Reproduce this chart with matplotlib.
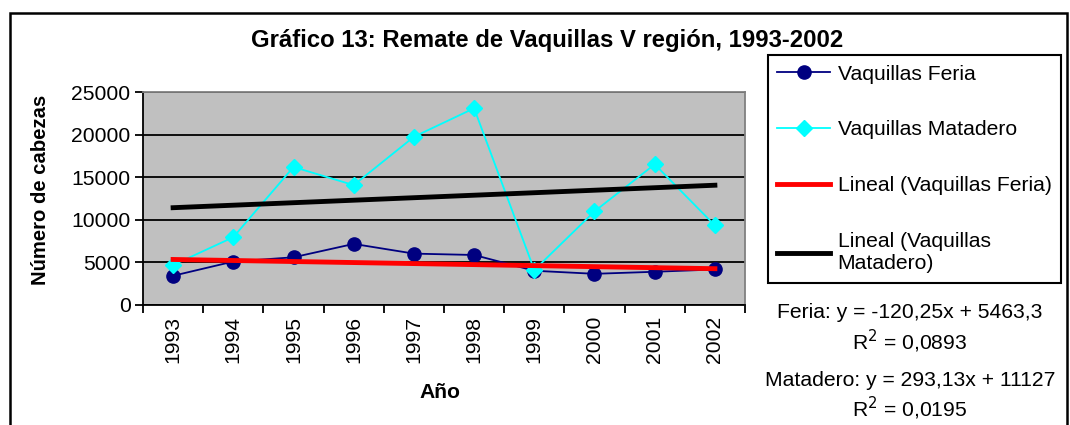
import numpy as np
import matplotlib.pyplot as plt
from matplotlib.patches import Rectangle

# Data
years = ['1993', '1994', '1995', '1996', '1997', '1998', '1999', '2000', '2001', '2002']
feria = [3430, 5100, 5600, 7170, 6030, 5870, 4020, 3660, 3900, 4170]
matadero = [4690, 7960, 16200, 14070, 19740, 23090, 4100, 10990, 16510, 9340]

# Trend line coefficients as printed on the chart (x = 1..10)
feria_slope, feria_intercept = -120.25, 5463.3
matadero_slope, matadero_intercept = 293.13, 11127

plt.rcParams['font.family'] = ['Liberation Sans', 'DejaVu Sans']

W, H = 1070, 425
fs = 15.2
fig = plt.figure(figsize=(W / 100, H / 100), dpi=100)

# outer chart frame (bottom edge runs off the image)
fig.patches.append(Rectangle((10 / W, -0.05), 1057 / W, 1 - 13 / H + 0.05,
                             transform=fig.transFigure, fill=False,
                             edgecolor='black', linewidth=1.8, clip_on=False))

ax = fig.add_axes([143 / W, 1 - 305 / H, 602 / W, 213 / H])
ax.set_facecolor('#C0C0C0')

x = np.arange(1, len(years) + 1)
ax.plot(x, feria, color='#000080', marker='o', markersize=9.5, linewidth=1.3,
        label='Vaquillas Feria', zorder=4)
ax.plot(x, matadero, color='#00FFFF', marker='D', markersize=8, linewidth=1.3,
        label='Vaquillas Matadero', zorder=4)
ax.plot(x, feria_slope * x + feria_intercept, color='#FF0000', linewidth=3.5,
        label='Lineal (Vaquillas Feria)', zorder=5)
ax.plot(x, matadero_slope * x + matadero_intercept, color='black', linewidth=3.5,
        label='Lineal (Vaquillas\nMatadero)', zorder=5)

ax.set_xlim(0.5, len(years) + 0.5)
ax.set_ylim(0, 25000)
ax.set_yticks(np.arange(0, 25001, 5000))
ax.set_xticks(np.arange(0.5, len(years) + 1, 1))
ax.set_xticklabels([])
ax.set_xticks(x, minor=True)
ax.set_xticklabels(years, minor=True, rotation=90)
ax.tick_params(axis='x', which='minor', length=0, pad=8, labelsize=fs)
ax.tick_params(axis='x', which='major', length=6, width=1.3, direction='out')
ax.tick_params(axis='y', length=6, width=1.3, direction='out', labelsize=fs, pad=3)
ax.yaxis.grid(True, color='black', linewidth=1.3)
ax.set_axisbelow(True)
for side in ['top', 'right']:
    ax.spines[side].set_color('#808080')
    ax.spines[side].set_linewidth(1.3)
for side in ['left', 'bottom']:
    ax.spines[side].set_color('black')
    ax.spines[side].set_linewidth(1.3)

ax.set_ylabel('Número de cabezas', fontsize=14.6, fontweight='bold')
ax.yaxis.set_label_coords(50 / W, 1 - 190 / H, transform=fig.transFigure)
fig.text(440 / W, 1 - 393 / H, 'Año', fontsize=fs, fontweight='bold',
         ha='center', va='center')
fig.text(547 / W, 1 - 40 / H, 'Gráfico 13: Remate de Vaquillas V región, 1993-2002',
         fontsize=17.2, fontweight='bold', ha='center', va='center')

leg = ax.legend(loc='upper left', bbox_to_anchor=(768 / W, 1 - 55 / H),
                bbox_transform=fig.transFigure, fontsize=fs, frameon=True,
                fancybox=False, edgecolor='black', framealpha=1,
                labelspacing=1.75, handlelength=2.5, handletextpad=0.35,
                borderpad=0.45, borderaxespad=0)
leg.get_frame().set_linewidth(1.5)

fig.text(910 / W, 1 - 313 / H, 'Feria: y = -120,25x + 5463,3', fontsize=fs,
         ha='center', va='center')
fig.text(910 / W, 1 - 341 / H, 'R$^2$ = 0,0893', fontsize=fs,
         ha='center', va='center')
fig.text(910 / W, 1 - 381 / H, 'Matadero: y = 293,13x + 11127', fontsize=fs,
         ha='center', va='center')
fig.text(910 / W, 1 - 408 / H, 'R$^2$ = 0,0195', fontsize=fs,
         ha='center', va='center')

fig.savefig('out.png', dpi=100)
